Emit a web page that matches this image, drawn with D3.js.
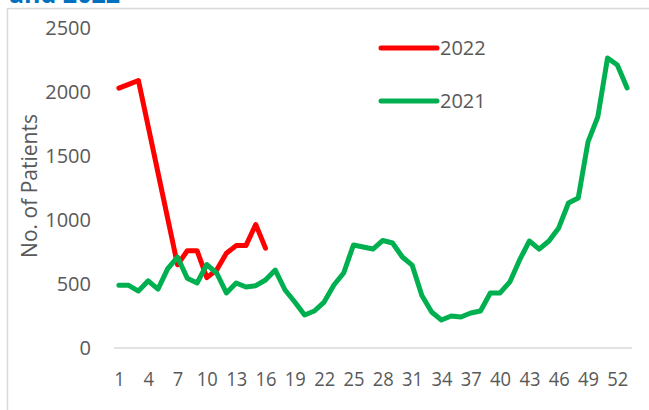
<!DOCTYPE html>
<html>
<head>
<meta charset="utf-8">
<script src="https://cdn.jsdelivr.net/npm/d3@7"></script>
<style>
  body { margin: 0; background: #fff; }
  svg { display: block; }
</style>
</head>
<body>
<div id="chart"></div>
<script>
// weekly patient counts
const weeks = d3.range(1, 54);
const tickWeeks = [1, 4, 7, 10, 13, 16, 19, 22, 25, 28, 31, 34, 37, 40, 43, 46, 49, 52];
const yTicks = [0, 500, 1000, 1500, 2000, 2500];

const cases2022 = [2030, 2060, 2090, 1730, 1370, 1010, 650, 760, 760, 550, 610, 740, 800, 800, 965, 780];
const cases2021 = [490, 490, 445, 525, 460, 620, 710, 545, 508, 652, 586, 430, 508, 477, 487, 531,
  609, 453, 359, 258, 289, 359, 492, 586, 805, 789, 773, 840, 820, 711, 648, 410, 281, 219, 250,
  242, 273, 289, 430, 430, 516, 688, 836, 773, 836, 938, 1133, 1172, 1610, 1805, 2266, 2211, 2031];

const seriesNames = ["2022", "2021"];
const colors = { "2022": "#FF0000", "2021": "#00B050" };

const width = 649;
const height = 410;
const font = "'Open Sans', 'Noto Sans', sans-serif";
const textColor = "#595959";

const svg = d3.select("#chart")
  .append("svg")
  .attr("width", width)
  .attr("height", height);

// chart area border (runs off the page on the right / bottom)
svg.append("rect")
  .attr("x", 7.5)
  .attr("y", 8.5)
  .attr("width", 700)
  .attr("height", 440)
  .attr("fill", "#fff")
  .attr("stroke", "#D9D9D9")
  .attr("stroke-width", 1.5);

// title, cut off at the top as in the original screenshot
svg.append("text")
  .attr("x", 9)
  .attr("y", 3)
  .attr("font-family", font)
  .attr("font-weight", "bold")
  .attr("font-size", 25)
  .attr("fill", "#0070C0")
  .text("and 2022");

const x = d3.scalePoint()
  .domain(weeks)
  .range([114, 632])
  .padding(0.5);

const y = d3.scaleLinear()
  .domain([0, 2500])
  .range([348, 28]);

// baseline
svg.append("line")
  .attr("x1", 114)
  .attr("x2", 632)
  .attr("y1", y(0))
  .attr("y2", y(0))
  .attr("stroke", "#D9D9D9")
  .attr("stroke-width", 1.5);

// y axis labels
const yAxis = svg.append("g")
  .attr("transform", "translate(91,0)")
  .call(d3.axisLeft(y).tickValues(yTicks).tickFormat(d3.format("d")).tickSize(0).tickPadding(0));
yAxis.select(".domain").remove();
yAxis.selectAll("text")
  .attr("font-family", font)
  .attr("font-size", 20)
  .attr("fill", textColor);

// x axis labels
const xAxis = svg.append("g")
  .attr("transform", `translate(0,${y(0)})`)
  .call(d3.axisBottom(x).tickValues(tickWeeks).tickSize(0).tickPadding(24));
xAxis.select(".domain").remove();
xAxis.selectAll("text")
  .attr("font-family", font)
  .attr("font-size", 20)
  .attr("fill", textColor)
  .attr("textLength", d => String(d).length * 10.5)
  .attr("lengthAdjust", "spacingAndGlyphs");

// axis title
svg.append("text")
  .attr("transform", "translate(37,186) rotate(-90)")
  .attr("text-anchor", "middle")
  .attr("font-family", font)
  .attr("font-size", 21)
  .attr("fill", textColor)
  .text("No. of Patients");

const line = d3.line()
  .x((d, i) => x(weeks[i]))
  .y(d => y(d));

// 2022 drawn first, 2021 on top
svg.append("path")
  .datum(cases2022)
  .attr("d", line)
  .attr("fill", "none")
  .attr("stroke", colors["2022"])
  .attr("stroke-width", 5)
  .attr("stroke-linejoin", "round")
  .attr("stroke-linecap", "round");

svg.append("path")
  .datum(cases2021)
  .attr("d", line)
  .attr("fill", "none")
  .attr("stroke", colors["2021"])
  .attr("stroke-width", 5)
  .attr("stroke-linejoin", "round")
  .attr("stroke-linecap", "round");

// legend
const legend = svg.append("g")
  .selectAll("g")
  .data(seriesNames)
  .join("g")
  .attr("transform", (d, i) => `translate(381,${48 + i * 53})`);

legend.append("line")
  .attr("x1", 0)
  .attr("x2", 56)
  .attr("stroke", d => colors[d])
  .attr("stroke-width", 5)
  .attr("stroke-linecap", "round");

legend.append("text")
  .attr("x", 59)
  .attr("y", 7)
  .attr("font-family", font)
  .attr("font-size", 20)
  .attr("fill", textColor)
  .text(d => d);
</script>
</body>
</html>
